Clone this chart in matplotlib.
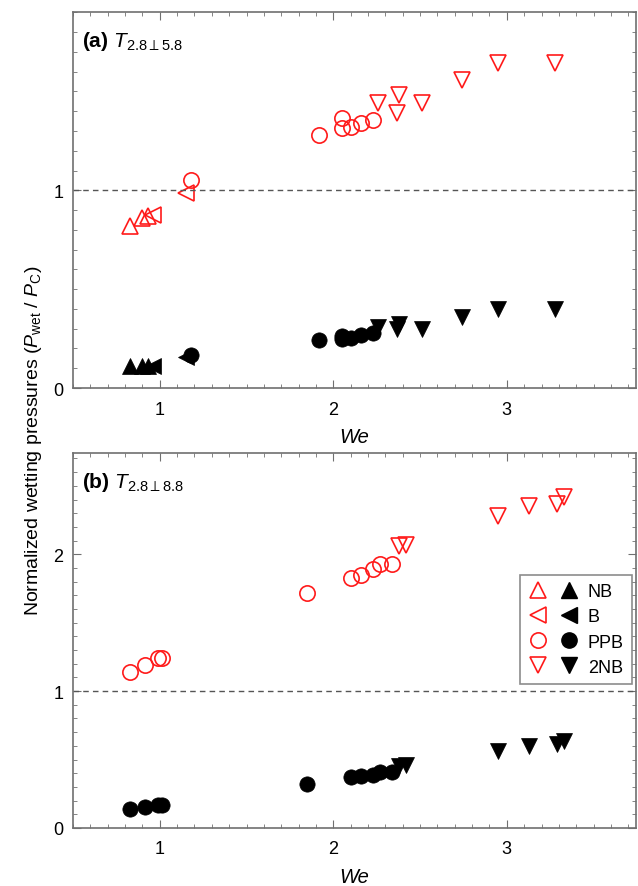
import numpy as np
import matplotlib
matplotlib.use('Agg')
import matplotlib.pyplot as plt
from matplotlib.ticker import MultipleLocator
from matplotlib.legend_handler import HandlerTuple

plt.rcParams['font.family'] = ['Liberation Sans', 'DejaVu Sans']
plt.rcParams['mathtext.fontset'] = 'custom'
plt.rcParams['mathtext.rm'] = 'Liberation Sans'
plt.rcParams['mathtext.it'] = 'Liberation Sans:italic'
plt.rcParams['mathtext.bf'] = 'Liberation Sans:bold'

# panel (a) T2.8_|_5.8
a_nb_x = [0.83, 0.90, 0.93]
a_nb_red = [0.82, 0.86, 0.87]
a_nb_blk = [0.11, 0.11, 0.11]
a_b_x = [0.96, 1.15]
a_b_red = [0.875, 0.985]
a_b_blk = [0.11, 0.155]
a_ppb_x = [1.18, 1.92, 2.05, 2.05, 2.10, 2.16, 2.23]
a_ppb_red = [1.05, 1.28, 1.315, 1.365, 1.32, 1.34, 1.355]
a_ppb_blk = [0.165, 0.245, 0.25, 0.265, 0.255, 0.27, 0.28]
a_2nb_x = [2.26, 2.37, 2.38, 2.51, 2.74, 2.95, 3.28]
a_2nb_red = [1.44, 1.39, 1.48, 1.44, 1.56, 1.645, 1.645]
a_2nb_blk = [0.31, 0.30, 0.325, 0.30, 0.36, 0.40, 0.40]

# panel (b) T2.8_|_8.8
b_ppb_x = [0.83, 0.915, 0.99, 1.015, 1.85, 2.10, 2.16, 2.23, 2.27, 2.34]
b_ppb_red = [1.14, 1.19, 1.24, 1.24, 1.715, 1.83, 1.85, 1.89, 1.93, 1.93]
b_ppb_blk = [0.14, 0.15, 0.165, 0.165, 0.32, 0.37, 0.38, 0.39, 0.41, 0.41]
b_2nb_x = [2.38, 2.42, 2.95, 3.13, 3.29, 3.33]
b_2nb_red = [2.06, 2.07, 2.28, 2.35, 2.37, 2.42]
b_2nb_blk = [0.45, 0.46, 0.56, 0.60, 0.61, 0.635]

red = '#ff1a1a'
grey = '#707070'

fig = plt.figure(figsize=(6.38, 8.87), dpi=100)
ax1 = fig.add_axes([0.1144, 0.5614, 0.8826, 0.4236])
ax2 = fig.add_axes([0.1144, 0.0654, 0.8826, 0.4228])


def hollow(ax, x, y, m, ms):
    return ax.plot(x, y, m, ls='none', ms=ms, mfc='none', mec=red, mew=1.2)[0]


def filled(ax, x, y, m, ms):
    return ax.plot(x, y, m, ls='none', ms=ms, mfc='black', mec='black', mew=0.5)[0]


hollow(ax1, a_nb_x, a_nb_red, '^', 12)
filled(ax1, a_nb_x, a_nb_blk, '^', 12)
hollow(ax1, a_b_x, a_b_red, '<', 12)
filled(ax1, a_b_x, a_b_blk, '<', 12)
hollow(ax1, a_ppb_x, a_ppb_red, 'o', 11)
filled(ax1, a_ppb_x, a_ppb_blk, 'o', 11)
hollow(ax1, a_2nb_x, a_2nb_red, 'v', 12)
filled(ax1, a_2nb_x, a_2nb_blk, 'v', 12)

hollow(ax2, b_ppb_x, b_ppb_red, 'o', 11)
filled(ax2, b_ppb_x, b_ppb_blk, 'o', 11)
hollow(ax2, b_2nb_x, b_2nb_red, 'v', 12)
filled(ax2, b_2nb_x, b_2nb_blk, 'v', 12)

for ax, ytop, lab in [(ax1, 1.9, r'$\mathbf{(a)}$ $T_{\mathrm{2.8}{\perp}\mathrm{5.8}}$'),
                      (ax2, 2.74, r'$\mathbf{(b)}$ $T_{\mathrm{2.8}{\perp}\mathrm{8.8}}$')]:
    ax.set_xlim(0.5, 3.745)
    ax.set_ylim(0, ytop)
    ax.axhline(1, color='#555555', ls=(0, (4, 3)), lw=1)
    ax.xaxis.set_major_locator(MultipleLocator(1))
    ax.xaxis.set_minor_locator(MultipleLocator(0.1))
    ax.yaxis.set_major_locator(MultipleLocator(1))
    ax.yaxis.set_minor_locator(MultipleLocator(0.1))
    ax.tick_params(which='both', direction='in', top=True, right=True,
                   color=grey, labelsize=13)
    ax.tick_params(axis='x', pad=9)
    ax.tick_params(axis='y', pad=7)
    ax.tick_params(which='major', length=6)
    ax.tick_params(which='minor', length=3)
    for s in ax.spines.values():
        s.set_color(grey)
        s.set_linewidth(1.2)
    ax.set_xlabel('We', fontsize=14.5, style='italic', labelpad=7)
    ax.text(0.016, 0.955, lab, transform=ax.transAxes, fontsize=15, va='top')

# legend with paired markers
pairs = [('^', 'NB', 12), ('<', 'B', 12), ('o', 'PPB', 11), ('v', '2NB', 12)]
handles = []
labels = []
for m, name, ms in pairs:
    h1 = plt.Line2D([], [], marker=m, ls='none', ms=ms, mfc='none', mec=red, mew=1.2)
    h2 = plt.Line2D([], [], marker=m, ls='none', ms=ms, mfc='black', mec='black')
    handles.append((h1, h2))
    labels.append(name)
leg = ax2.legend(handles, labels, handler_map={tuple: HandlerTuple(ndivide=None, pad=0.7)},
                 loc='upper right', bbox_to_anchor=(0.9925, 0.674), fontsize=13,
                 frameon=True, fancybox=False, edgecolor=grey, handlelength=2.8,
                 handletextpad=0.5, borderpad=0.45, labelspacing=0.45, borderaxespad=0)
leg.get_frame().set_linewidth(1.2)

fig.text(0.052, 0.503, r'Normalized wetting pressures ($P_{\mathrm{wet}}$ / $P_{\mathrm{C}}$)',
         rotation=90, fontsize=14, ha='center', va='center')

fig.savefig('out.png', dpi=100)
